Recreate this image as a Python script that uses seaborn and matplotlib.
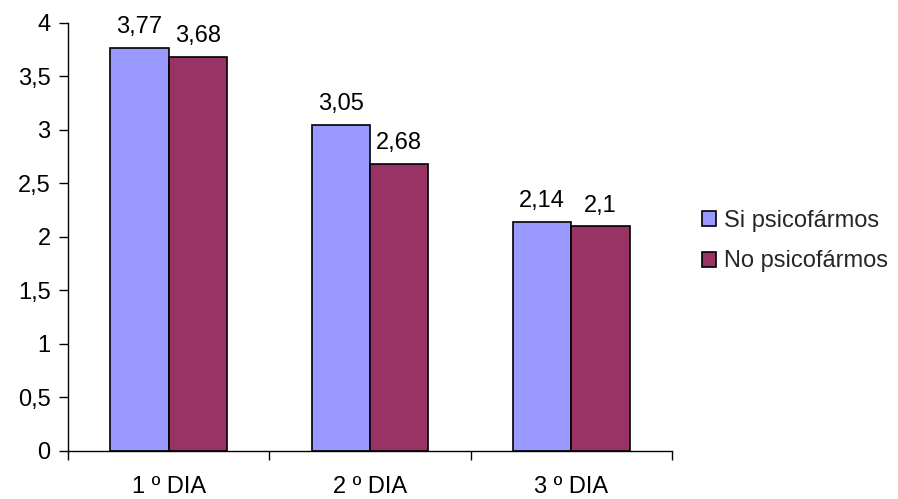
import matplotlib
matplotlib.use("Agg")
import matplotlib.pyplot as plt
import seaborn as sns
import pandas as pd
from matplotlib.ticker import FixedLocator, FuncFormatter
from matplotlib.patches import Patch

categories = ["1 º DIA", "2 º DIA", "3 º DIA"]
series_names = ["Si psicofármos", "No psicofármos"]
si_values = [3.77, 3.05, 2.14]
no_values = [3.68, 2.68, 2.10]
colors = ["#9999FF", "#993366"]

rows = []
for c, v in zip(categories, si_values):
    rows.append({"dia": c, "grupo": series_names[0], "valor": v})
for c, v in zip(categories, no_values):
    rows.append({"dia": c, "grupo": series_names[1], "valor": v})
df = pd.DataFrame(rows)

sns.set_theme(style="white")
plt.rcParams["font.family"] = ["Liberation Sans", "DejaVu Sans"]

FS = 17
fig = plt.figure(figsize=(8.98, 4.99), dpi=100)
ax = fig.add_axes([0.0757, 0.0962, 0.6726, 0.8578])

sns.barplot(data=df, x="dia", y="valor", hue="grupo", order=categories,
            hue_order=series_names, palette=colors, width=0.58, gap=0,
            edgecolor="black", linewidth=1.2, saturation=1, ax=ax, legend=False,
            errorbar=None)

def fmt(v):
    s = f"{v:.2f}".rstrip("0").rstrip(".")
    return s.replace(".", ",")

for cont in ax.containers:
    ax.bar_label(cont, labels=[fmt(b.get_height()) for b in cont], padding=7,
                 fontsize=FS, color="black")

ax.set_ylim(0, 4)
ax.set_xlim(-0.5, 2.5)
ax.set_yticks([0, 0.5, 1, 1.5, 2, 2.5, 3, 3.5, 4])
ax.yaxis.set_major_formatter(FuncFormatter(lambda v, p: fmt(v)))
ax.tick_params(axis="y", which="major", left=True, length=6.5, width=1, color="black",
               labelsize=FS, pad=6, labelcolor="black")
ax.tick_params(axis="x", which="major", bottom=False, length=0, labelsize=FS, pad=18,
               labelcolor="black")
ax.xaxis.set_minor_locator(FixedLocator([-0.5, 0.5, 1.5, 2.5]))
ax.tick_params(axis="x", which="minor", bottom=True, length=6.5, width=1, color="black")
ax.set_xlabel("")
ax.set_ylabel("")
for s in ["top", "right"]:
    ax.spines[s].set_visible(False)
for s in ["left", "bottom"]:
    ax.spines[s].set_color("black")
    ax.spines[s].set_linewidth(1)

handles = [Patch(facecolor=colors[i], edgecolor="black", linewidth=1.2, label=series_names[i])
           for i in range(2)]
fig.legend(handles=handles, loc="center left", bbox_to_anchor=(0.782, 0.517),
           frameon=False, fontsize=FS, handlelength=0.6, handleheight=0.6,
           handletextpad=0.34, labelspacing=0.8, borderpad=0, borderaxespad=0)

fig.savefig("out.png", dpi=100)
